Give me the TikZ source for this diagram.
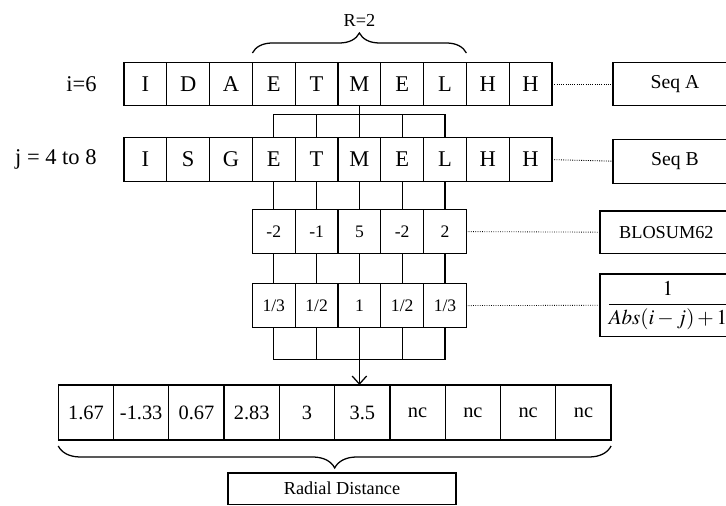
\documentclass[tikz,border=0pt]{standalone}
\usepackage{amsmath}
\usepackage{mathptmx}
\usepackage{fontspec}
\setmainfont{Liberation Serif}
\usetikzlibrary{arrows,arrows.meta,positioning,calc,decorations.pathreplacing}

\begin{document}
\begin{tikzpicture}[line width=0.9pt, >={Straight Barb[length=2mm,width=3.6mm]},
cell/.style={rectangle,draw,minimum width=1.07cm,minimum height=1.09cm,inner sep=0pt,outer sep=0pt,font=\fontsize{16}{18}\selectfont},
score/.style={cell,font=\fontsize{12.5}{14}\selectfont},
res node/.style={rectangle,draw,minimum width=1.382cm,minimum height=1.375cm,inner sep=0pt,outer sep=0pt,font=\fontsize{14.5}{16}\selectfont},
tag/.style={rectangle,draw,inner sep=0pt,outer sep=0pt,font=\fontsize{14}{16}\selectfont},
dots/.style={densely dotted,line width=0.6pt}]
\useasboundingbox (0,0) rectangle (18.15,12.65);
% sequence A
\node[cell] (a1) at (3.635,10.55) {I};
\node[cell] (a2) at (4.705,10.55) {D};
\node[cell] (a3) at (5.775,10.55) {A};
\node[cell] (a4) at (6.845,10.55) {E};
\node[cell] (a5) at (7.915,10.55) {T};
\node[cell] (a6) at (8.985,10.55) {M};
\node[cell] (a7) at (10.055,10.55) {E};
\node[cell] (a8) at (11.125,10.55) {L};
\node[cell] (a9) at (12.195,10.55) {H};
\node[cell] (a10) at (13.265,10.55) {H};
% sequence B
\node[cell] (b1) at (3.635,8.66) {I};
\node[cell] (b2) at (4.705,8.66) {S};
\node[cell] (b3) at (5.775,8.66) {G};
\node[cell] (b4) at (6.845,8.66) {E};
\node[cell] (b5) at (7.915,8.66) {T};
\node[cell] (b6) at (8.985,8.66) {M};
\node[cell] (b7) at (10.055,8.66) {E};
\node[cell] (b8) at (11.125,8.66) {L};
\node[cell] (b9) at (12.195,8.66) {H};
\node[cell] (b10) at (13.265,8.66) {H};
\node[left=0.67cm of a1,inner sep=0pt,font=\fontsize{16}{18}\selectfont] (ilab) {i=6};
\node[left=0.67cm of b1,inner sep=0pt,font=\fontsize{16}{18}\selectfont] (jlab) {j = 4 to 8};
% scores
\node[score] (s1) at (6.845,6.86) {-2};
\node[score] (s2) at (7.915,6.86) {-1};
\node[score] (s3) at (8.985,6.86) {5};
\node[score] (s4) at (10.055,6.86) {-2};
\node[score] (s5) at (11.125,6.86) {2};
\node[score] (f1) at (6.845,5.01) {1/3};
\node[score] (f2) at (7.915,5.01) {1/2};
\node[score] (f3) at (8.985,5.01) {1};
\node[score] (f4) at (10.055,5.01) {1/2};
\node[score] (f5) at (11.125,5.01) {1/3};
% radial distance
\node[res node] (r1) at (2.148,2.3375) {1.67};
\node[res node] (r2) at (3.530,2.3375) {-1.33};
\node[res node] (r3) at (4.912,2.3375) {0.67};
\node[res node] (r4) at (6.294,2.3375) {2.83};
\node[res node] (r5) at (7.676,2.3375) {3};
\node[res node] (r6) at (9.058,2.3375) {3.5};
\node[res node] (r7) at (10.440,2.3375) {nc};
\node[res node] (r8) at (11.822,2.3375) {nc};
\node[res node] (r9) at (13.204,2.3375) {nc};
\node[res node] (r10) at (14.586,2.3375) {nc};
\node[tag,minimum width=5.7cm,minimum height=0.78cm,font=\fontsize{13}{15}\selectfont] (radial) at (8.55,0.4325) {Radial Distance};
% legend boxes
\node[tag,minimum width=3.1cm,minimum height=1.08cm] (seqa) at (16.875,10.55) {Seq A};
\node[tag,minimum width=3.1cm,minimum height=1.1cm] (seqb) at (16.875,8.62) {Seq B};
\node[tag,minimum width=3.325cm,minimum height=1.06cm,font=\fontsize{13}{15}\selectfont] (blosum) at (16.66,6.845) {BLOSUM62};
\node[tag,anchor=west,minimum width=3.4cm,minimum height=1.57cm,inner xsep=1pt,font=\fontsize{15}{17}\selectfont] (weight) at (15.0,5.0175) {$\dfrac{1}{Abs(i-j)+1}$};

\draw[decorate,decoration={brace,amplitude=0.5cm}] ($(a4.north west)+(0,0.23)$) -- ($(a8.north east)+(0,0.23)$) node[midway,above=0.52cm,font=\fontsize{13}{15}\selectfont] (rlab) {R=2};
\draw[decorate,decoration={brace,mirror,amplitude=0.55cm}] ($(r1.south west)+(0,-0.15)$) -- ($(r10.south east)+(0,-0.15)$);

\draw (a6.south) -- (b6.north);
\draw (b4.north) -- ++(0,0.575) -| (b8.north);
\draw (b5.north) -- ++(0,0.575);
\draw (b7.north) -- ++(0,0.575);
\draw (b4.south) -- (s1.north);
\draw (b5.south) -- (s2.north);
\draw (b6.south) -- (s3.north);
\draw (b7.south) -- (s4.north);
\draw (b8.south) -- (s5.north);
\draw (s1.south) -- (f1.north);
\draw (s2.south) -- (f2.north);
\draw (s3.south) -- (f3.north);
\draw (s4.south) -- (f4.north);
\draw (s5.south) -- (f5.north);
\draw (f1.south) -- ++(0,-0.8) -| (f5.south);
\draw (f2.south) -- ++(0,-0.8);
\draw (f4.south) -- ++(0,-0.8);
\draw[->] (f3.south) -- (f3.south |- r6.north);
\draw[dots] (a10.east) -- (seqa.west);
\draw[dots] (b10.east) -- (seqb.west);
\draw[dots] (s5.east) -- (blosum.west);
\draw[dots] (f5.east) -- (weight.west);
\end{tikzpicture}
\end{document}
